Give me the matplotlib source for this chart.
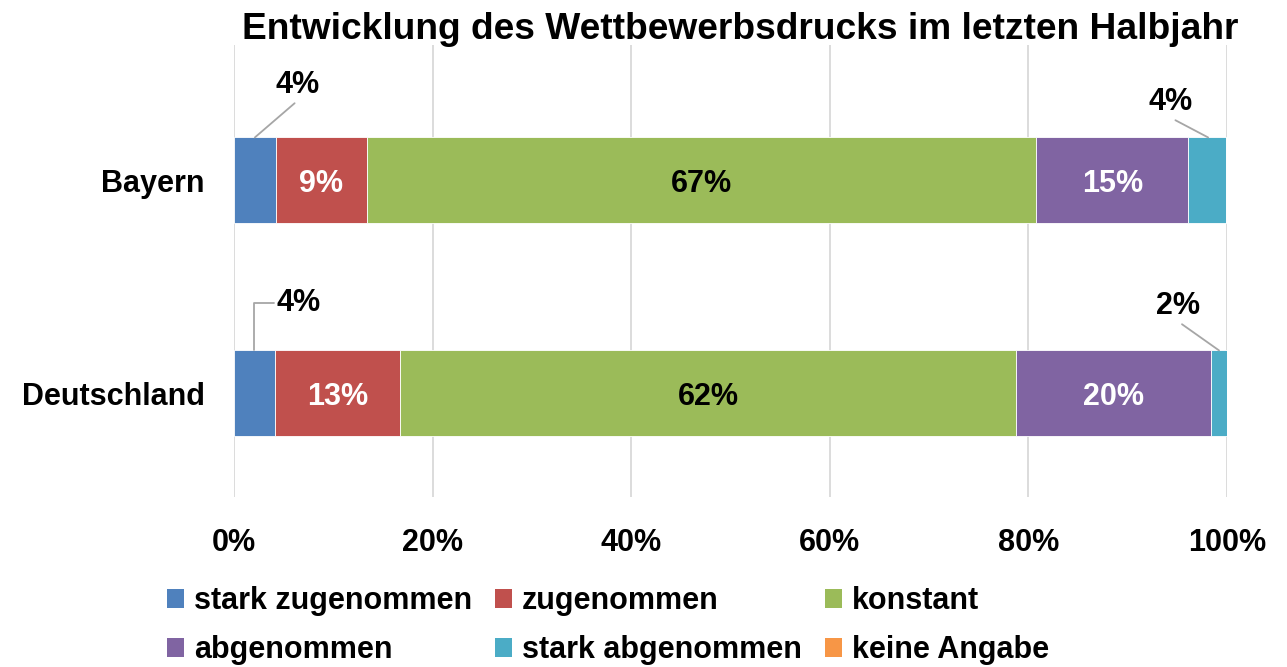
import matplotlib
matplotlib.use('Agg')
import matplotlib.pyplot as plt
from matplotlib.patches import Patch

plt.rcParams['font.family'] = ['Liberation Sans', 'DejaVu Sans']
plt.rcParams['font.weight'] = 'bold'

regions = ['Bayern', 'Deutschland']
series = ['stark zugenommen', 'zugenommen', 'konstant',
          'abgenommen', 'stark abgenommen', 'keine Angabe']
# shares in percent per region, same order as series
bayern = [4.2, 9.2, 67.4, 15.3, 3.8, 0.0]
deutschland = [4.1, 12.6, 62.1, 19.6, 1.6, 0.0]
xticks = [0, 20, 40, 60, 80, 100]

colors = ['#4F81BD', '#C0504D', '#9BBB59', '#8064A2', '#4BACC6', '#F79646']
inside_color = [None, 'white', 'black', 'white', None, None]

fig = plt.figure(figsize=(12.87, 6.67), dpi=100)
ax = fig.add_axes([234 / 1287, 1 - 497 / 667, 993 / 1287, 452 / 667])

values = [bayern, deutschland]
bar_h = 0.4
for row, vals in enumerate(values):
    left = 0.0
    for i, v in enumerate(vals):
        ax.barh(row, v, left=left, height=bar_h, color=colors[i],
                edgecolor='white', linewidth=0.6, zorder=3)
        if inside_color[i] and v > 0:
            ax.text(left + v / 2, row, f'{v:.0f}%', ha='center',
                    va='center_baseline', fontsize=22, fontweight='bold',
                    color=inside_color[i], zorder=4)
        left += v

# small segments get outside labels with leader lines
def leader(x, row, text, dx, dy, elbow=False):
    y = row - bar_h / 2
    props = dict(arrowstyle='-', color='#A6A6A6', lw=1.3,
                 shrinkA=0, shrinkB=0)
    if elbow:
        props['connectionstyle'] = 'angle,angleA=0,angleB=90,rad=0'
    else:
        props['relpos'] = (0.5, 0.0)
    ax.annotate(text, xy=(x, y), xytext=(dx, dy), textcoords='offset pixels',
                ha='center', va='center', fontsize=22, fontweight='bold',
                arrowprops=props, zorder=5)

b, d = bayern, deutschland
leader(b[0] / 2, 0, f'{b[0]:.0f}%', 43, 52)
leader(100 - b[4] / 2, 0, f'{b[4]:.0f}%', -38, 35)
leader(d[0] / 2, 1, f'{d[0]:.0f}%', 44, 47, elbow=True)
leader(100 - d[4] / 2, 1, f'{d[4]:.0f}%', -41, 44)

ax.set_xlim(0, 100)
ax.set_ylim(1.488, -0.634)
ax.set_xticks(xticks)
ax.set_xticklabels([f'{t}%' for t in xticks])
ax.set_yticks(range(len(regions)))
ax.set_yticklabels(regions)
ax.tick_params(axis='x', length=0, pad=22, labelsize=22)
ax.tick_params(axis='y', length=0, pad=21, labelsize=22)
for lab in ax.get_xticklabels() + ax.get_yticklabels():
    lab.set_fontweight('bold')
ax.grid(axis='x', color='#D9D9D9', lw=1.3, zorder=0)
for s in ax.spines.values():
    s.set_visible(False)

fig.text(740 / 1287, 1 - 39 / 667,
         'Entwicklung des Wettbewerbsdrucks im letzten Halbjahr',
         fontsize=26.7, fontweight='bold', ha='center', va='baseline')

handles = [Patch(facecolor=c, label=s) for c, s in zip(colors, series)]
order = [0, 3, 1, 4, 2, 5]
fig.legend([handles[i] for i in order], [series[i] for i in order],
           ncol=3, loc='upper left', bbox_to_anchor=(152 / 1287, 1 - 571 / 667),
           frameon=False, handlelength=0.55, handleheight=0.55,
           handletextpad=0.33, columnspacing=0.75, labelspacing=0.62,
           borderpad=0, prop={'weight': 'bold', 'size': 22})

fig.savefig('out.png', dpi=100)
